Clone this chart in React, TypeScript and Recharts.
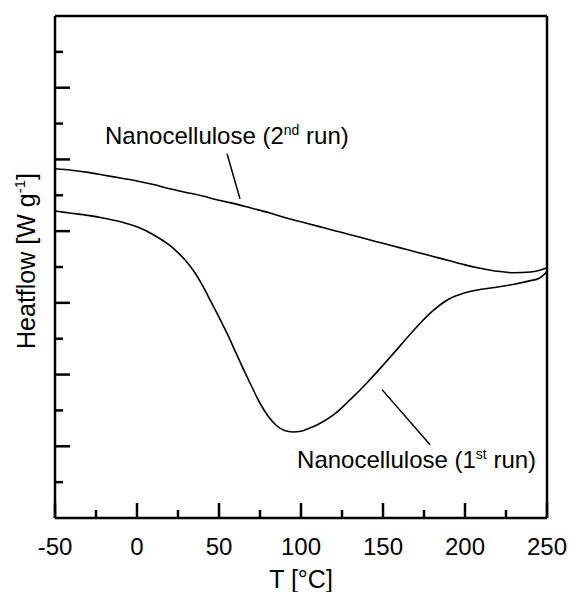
import React from 'react';
import { LineChart, Line, XAxis, YAxis, ReferenceLine, ReferenceDot } from 'recharts';

// T [°C] and heatflow (arbitrary units)
const run1Temps = [-50, -40, -30, -20, -10, 0, 10, 15, 20, 25, 30, 35, 40, 45, 50, 55, 60, 65, 70, 75, 80, 85, 90, 95, 100, 105, 110, 120, 130, 140, 150, 160, 170, 180, 190, 200, 210, 220, 230, 240, 245, 248, 250];
const run1Flow = [4.28, 4.25, 4.22, 4.18, 4.13, 4.06, 3.95, 3.88, 3.8, 3.7, 3.58, 3.43, 3.24, 3.02, 2.8, 2.57, 2.32, 2.07, 1.83, 1.6, 1.42, 1.29, 1.22, 1.2, 1.21, 1.25, 1.3, 1.44, 1.65, 1.88, 2.13, 2.39, 2.65, 2.88, 3.05, 3.14, 3.19, 3.22, 3.26, 3.31, 3.34, 3.39, 3.44];

const run2Temps = [-50, -40, -30, -20, -10, 0, 10, 20, 30, 40, 50, 60, 70, 80, 90, 100, 110, 120, 130, 140, 150, 160, 170, 180, 190, 200, 210, 220, 230, 240, 245, 250];
const run2Flow = [4.87, 4.85, 4.82, 4.78, 4.74, 4.7, 4.65, 4.59, 4.54, 4.49, 4.43, 4.38, 4.32, 4.26, 4.19, 4.13, 4.07, 4.01, 3.95, 3.89, 3.83, 3.77, 3.71, 3.65, 3.59, 3.53, 3.48, 3.44, 3.42, 3.43, 3.45, 3.49];

const xTicks = [-50, -25, 0, 25, 50, 75, 100, 125, 150, 175, 200, 225, 250];
const yTicks = [0.5, 1, 1.5, 2, 2.5, 3, 3.5, 4, 4.5, 5, 5.5, 6, 6.5];

const run1 = run1Temps.map((t, i) => ({ t, v: run1Flow[i] }));
const run2 = run2Temps.map((t, i) => ({ t, v: run2Flow[i] }));

const FONT = 'Liberation Sans, Arial, sans-serif';

const XTick = (props: any) => {
  const { x, y, payload } = props;
  const major = payload.value % 50 === 0;
  return (
    <g>
      <line x1={x} y1={y} x2={x} y2={y - (major ? 15 : 8)} stroke="#000" strokeWidth={2.5} />
      {major && (
        <text x={x} y={y + 37} textAnchor="middle" fontFamily={FONT} fontSize={24} fill="#000">
          {payload.value}
        </text>
      )}
    </g>
  );
};

const YTick = (props: any) => {
  const { x, y, payload } = props;
  const major = Number.isInteger(payload.value);
  return <line x1={x} y1={y} x2={x + (major ? 15 : 8)} y2={y} stroke="#000" strokeWidth={2.5} />;
};

const noteText = (lead: string, sup: string) => (props: any) => (
  <text x={props.cx} y={props.cy} fontFamily={FONT} fontSize={24} fill="#000">
    {lead}
    <tspan dy={-9} fontSize={14}>{sup}</tspan>
    <tspan dy={9}> run)</tspan>
  </text>
);

const App: React.FC = () => {
  return (
    <div style={{ position: 'absolute', left: 0, top: 0 }}>
      <LineChart width={570} height={592} margin={{ top: 15, right: 22, bottom: 73, left: 54 }}>
        <XAxis
          dataKey="t"
          type="number"
          domain={[-50, 250]}
          ticks={xTicks}
          interval={0}
          height={1}
          tickSize={0}
          tickMargin={0}
          tickLine={false}
          tick={XTick}
          axisLine={{ stroke: '#000', strokeWidth: 2.5 }}
          label={{
            content: (p: any) => (
              <text x={p.viewBox.x + p.viewBox.width / 2} y={p.viewBox.y + 70} textAnchor="middle" fontFamily={FONT} fontSize={25} fill="#000">
                T [°C]
              </text>
            ),
          }}
        />
        <XAxis xAxisId="top" orientation="top" dataKey="t" type="number" domain={[-50, 250]} height={1} tick={false} tickLine={false} axisLine={{ stroke: '#000', strokeWidth: 2.5 }} />
        <YAxis
          type="number"
          domain={[0, 7]}
          ticks={yTicks}
          interval={0}
          width={1}
          tickSize={0}
          tickMargin={0}
          tickLine={false}
          tick={YTick}
          axisLine={{ stroke: '#000', strokeWidth: 2.5 }}
          label={{
            content: (p: any) => {
              const cx = p.viewBox.x - 19;
              const cy = p.viewBox.y + p.viewBox.height / 2 - 6;
              return (
                <text x={cx} y={cy} transform={`rotate(-90, ${cx}, ${cy})`} textAnchor="middle" fontFamily={FONT} fontSize={25} fill="#000">
                  Heatflow [W g<tspan dy={-10} fontSize={15}>-1</tspan><tspan dy={10}>]</tspan>
                </text>
              );
            },
          }}
        />
        <YAxis yAxisId="right" orientation="right" type="number" domain={[0, 7]} width={1} tick={false} tickLine={false} axisLine={{ stroke: '#000', strokeWidth: 2.5 }} />

        <Line data={run2} dataKey="v" type="monotone" stroke="#000" strokeWidth={1.6} dot={false} isAnimationActive={false} />
        <Line data={run1} dataKey="v" type="monotone" stroke="#000" strokeWidth={1.6} dot={false} isAnimationActive={false} />

        <ReferenceLine segment={[{ x: 54.9, y: 5.08 }, { x: 62.8, y: 4.45 }]} stroke="#000" strokeWidth={1.5} />
        <ReferenceLine segment={[{ x: 149.4, y: 1.79 }, { x: 178.7, y: 1.02 }]} stroke="#000" strokeWidth={1.5} />
        <ReferenceDot x={-19.5} y={5.22} r={0} ifOverflow="visible" shape={noteText('Nanocellulose (2', 'nd')} />
        <ReferenceDot x={97.6} y={0.7} r={0} ifOverflow="visible" shape={noteText('Nanocellulose (1', 'st')} />
      </LineChart>
    </div>
  );
};

export default App;
